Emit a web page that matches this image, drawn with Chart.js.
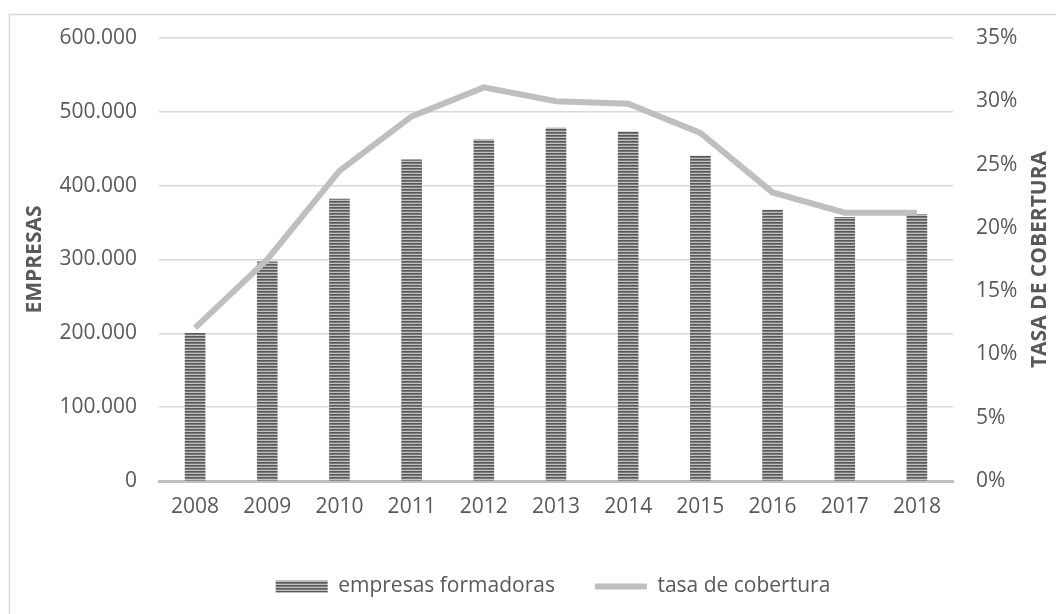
<!DOCTYPE html>
<html>
<head>
<meta charset="utf-8">
<script src="https://cdn.jsdelivr.net/npm/chart.js@4"></script>
<style>
  html, body { margin: 0; padding: 0; background: #fff; }
  canvas { display: block; }
</style>
</head>
<body>
<canvas id="chart" width="1056" height="614"></canvas>
<script>
var years = ['2008', '2009', '2010', '2011', '2012', '2013', '2014', '2015', '2016', '2017', '2018'];
var empresas = [200000, 297000, 382000, 435000, 462000, 478000, 473000, 440000, 367000, 357000, 361000];
var tasa = [12.1, 17.5, 24.5, 28.8, 31.1, 30.0, 29.8, 27.5, 22.8, 21.2, 21.2];
var leftTicks = [0, 100000, 200000, 300000, 400000, 500000, 600000];
var rightTicks = [0, 5, 10, 15, 20, 25, 30, 35];

var textColor = '#595959';
var fontFamily = "'Open Sans', sans-serif";

// striped fill for the bars
function stripes() {
    let c = document.createElement('canvas');
    c.width = 4; c.height = 3;
    let g = c.getContext('2d');
    g.fillStyle = '#585858'; g.fillRect(0, 0, 4, 1);
    g.fillStyle = '#7a7a7a'; g.fillRect(0, 1, 4, 1);
    g.fillStyle = '#c0c0c0'; g.fillRect(0, 2, 4, 1);
    return g.createPattern(c, 'repeat');
}
var barFill = stripes();

function thousands(v) {
    return String(v).replace(/\B(?=(\d{3})+(?!\d))/g, '.');
}

var frame = {
    id: 'frame',
    beforeInit(chart) {
        let fit = chart.legend.fit;
        chart.legend.fit = function() {
            fit.call(this);
            this.height = 78;
        };
    },
    afterLayout(chart) {
        // legend sits a little right of centre in the original
        chart.legend.left += 50;
    },
    beforeDraw(chart) {
        let ctx = chart.ctx;
        ctx.save();
        ctx.strokeStyle = '#d9d9d9';
        ctx.lineWidth = 1.5;
        ctx.strokeRect(9.5, 14.5, 1100, 700);
        ctx.restore();
    },
    afterDraw(chart) {
        let ctx = chart.ctx;
        let mid = (chart.chartArea.top + chart.chartArea.bottom) / 2;
        ctx.save();
        ctx.fillStyle = textColor;
        ctx.font = "bold 21px " + fontFamily;
        ctx.textAlign = 'center';
        ctx.textBaseline = 'middle';
        [[35, 'EMPRESAS'], [1040, 'TASA DE COBERTURA']].forEach(([x, t]) => {
            ctx.save();
            ctx.translate(x, mid);
            ctx.rotate(-Math.PI / 2);
            ctx.fillText(t, 0, 0);
            ctx.restore();
        });
        ctx.restore();
    }
};

new Chart(document.getElementById('chart'), {
    data: {
        labels: years,
        datasets: [{
            type: 'bar',
            label: 'empresas formadoras',
            data: empresas,
            backgroundColor: barFill,
            borderWidth: 0,
            barThickness: 20,
            pointStyle: 'rect',
            yAxisID: 'y',
            order: 1
        }, {
            type: 'line',
            label: 'tasa de cobertura',
            data: tasa,
            borderColor: '#bfbfbf',
            backgroundColor: '#bfbfbf',
            borderWidth: 6,
            pointRadius: 0,
            tension: 0,
            pointStyle: 'line',
            yAxisID: 'y1',
            order: 0
        }]
    },
    options: {
        responsive: false,
        animation: false,
        layout: { padding: { top: 38, left: 0, right: 0, bottom: 0 } },
        plugins: {
            tooltip: { enabled: false },
            legend: {
                position: 'bottom',
                labels: {
                    usePointStyle: true,
                    pointStyleWidth: 52,
                    boxHeight: 12,
                    padding: 40,
                    color: textColor,
                    font: { family: fontFamily, size: 21 },
                    sort: (a, b) => a.datasetIndex - b.datasetIndex
                }
            }
        },
        scales: {
            x: {
                grid: { display: false, drawTicks: false },
                border: { display: true, color: '#bfbfbf', width: 3 },
                ticks: { color: textColor, font: { family: fontFamily, size: 21 }, padding: 13, maxRotation: 0 },
                afterFit: s => { s.height = 55; }
            },
            y: {
                position: 'left',
                min: 0,
                max: 600000,
                afterBuildTicks: s => { s.ticks = leftTicks.map(v => ({ value: v })); },
                grid: { color: '#d9d9d9', lineWidth: 1.5, drawTicks: false },
                border: { display: false },
                ticks: { color: textColor, font: { family: fontFamily, size: 21 }, padding: 22, callback: v => thousands(v) },
                afterFit: s => { s.width = 159; }
            },
            y1: {
                position: 'right',
                min: 0,
                max: 35,
                afterBuildTicks: s => { s.ticks = rightTicks.map(v => ({ value: v })); },
                grid: { display: false, drawTicks: false },
                border: { display: false },
                ticks: { color: textColor, font: { family: fontFamily, size: 21 }, padding: 23, callback: v => v + '%' },
                afterFit: s => { s.width = 103; }
            }
        }
    },
    plugins: [frame]
});
</script>
</body>
</html>
